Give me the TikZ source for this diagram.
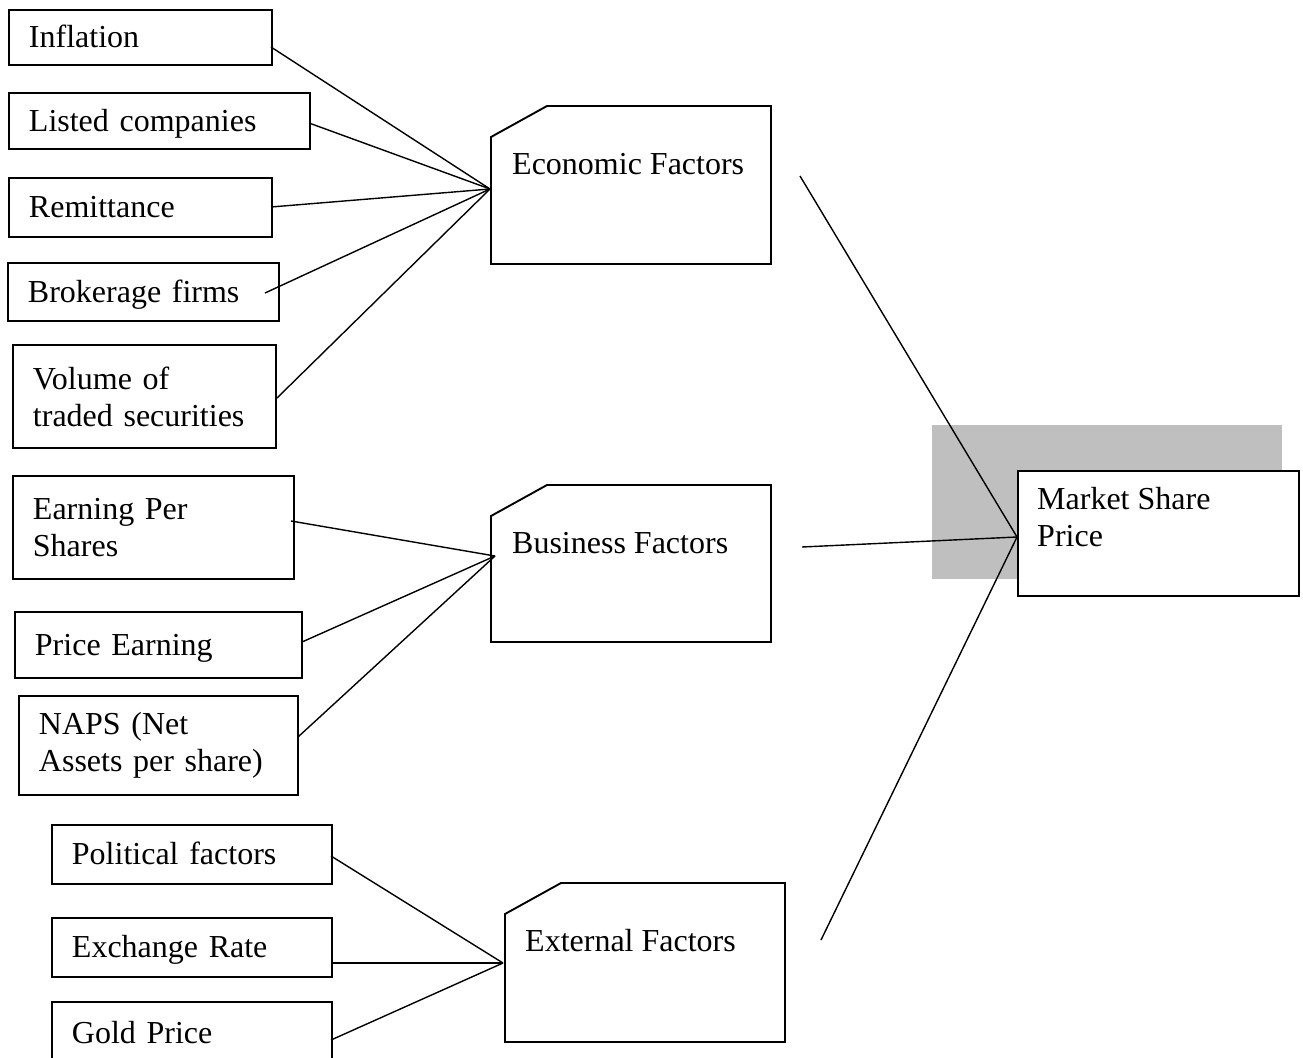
\documentclass[tikz,border=0pt]{standalone}
\usepackage{fontspec}
\setmainfont{Liberation Serif}
\begin{document}
\begin{tikzpicture}[x=1pt,y=-1pt,
  lbl/.style={font=\fontsize{32}{37}\selectfont},
  box/.style={draw, line width=1.9pt, anchor=north west, inner xsep=20pt, inner ysep=0pt, align=left, lbl},
  one/.style={text height=21pt, text depth=0pt},
  fshape/.style={draw, line width=1.9pt, line join=miter},
  conn/.style={line width=1.4pt},
  ftext/.style={anchor=base west, inner sep=0pt, lbl}
]
\useasboundingbox (0,0) rectangle (1303,1057);
\clip (0,0) rectangle (1303,1057);

% left boxes
\node[box, one, minimum width=263pt, minimum height=55pt, text width=223pt] (infl) at (8,9) {Inflation};
\node[box, one, minimum width=301pt, minimum height=56pt, text width=261pt] (listed) at (8,92) {Listed companies};
\node[box, one, minimum width=263pt, minimum height=59pt, text width=223pt] (remit) at (8,177) {Remittance};
\node[box, one, minimum width=271pt, minimum height=58pt, text width=231pt] (broker) at (7,262) {Brokerage firms};
\node[box, minimum width=263pt, minimum height=103pt, text width=223pt] (volume) at (12,344) {Volume of\\traded securities};
\node[box, minimum width=281pt, minimum height=103pt, text width=241pt] (eps) at (12,475) {Earning Per\\Shares};
\node[box, one, minimum width=287pt, minimum height=66pt, text width=247pt] (pe) at (14,611) {Price Earning};
\node[box, minimum width=279pt, minimum height=99pt, text width=239pt] (naps) at (18,695) {NAPS (Net\\Assets per share)};
\node[box, one, minimum width=280pt, minimum height=59pt, text width=240pt] (polit) at (51,824) {Political factors};
\node[box, one, minimum width=280pt, minimum height=59pt, text width=240pt] (exch) at (51,917) {Exchange Rate};
\node[box, one, minimum width=280pt, minimum height=62pt, text width=240pt] (gold) at (51,1001) {Gold Price};

% factor shapes
\draw[fshape] (491,137) -- (547,106) -- (771,106) -- (771,264) -- (491,264) -- cycle;
\node[ftext] (eco) at (512,174) {Economic Factors};
\draw[fshape] (491,516) -- (547,485) -- (771,485) -- (771,642) -- (491,642) -- cycle;
\node[ftext] (bus) at (512,553) {Business Factors};
\draw[fshape] (505,914) -- (561,883) -- (785,883) -- (785,1042) -- (505,1042) -- cycle;
\node[ftext] (ext) at (525,951) {External Factors};

% market share price
\fill[gray!50] (932,425) rectangle (1282,579);
\node[draw, line width=1.9pt, fill=white, anchor=north west, minimum width=281pt, minimum height=125pt] (msp) at (1017,470) {};
\node[anchor=north west, inner sep=0pt, align=left, lbl] (msptext) at (1037,487) {Market Share\\Price};

% connector points
\coordinate (inflOut) at (271,47);
\coordinate (listedOut) at (309,123);
\coordinate (remitOut) at (271,207);
\coordinate (brokerOut) at (265,293);
\coordinate (volumeOut) at (277,398);
\coordinate (epsOut) at (291,521);
\coordinate (peOut) at (302,642);
\coordinate (napsOut) at (298,737);
\coordinate (politOut) at (331,856);
\coordinate (exchOut) at (331,963);
\coordinate (goldOut) at (331,1040);
\coordinate (ecoIn) at (490,189);
\coordinate (busIn) at (495,556);
\coordinate (extIn) at (503,963);
\coordinate (ecoOut) at (800,176);
\coordinate (busOut) at (802,547);
\coordinate (extOut) at (821,940);
\coordinate (mspIn) at (1017,537);

\foreach \s in {inflOut,listedOut,remitOut,brokerOut,volumeOut}
  \draw[conn] (\s) -- (ecoIn);
\foreach \s in {epsOut,peOut,napsOut}
  \draw[conn] (\s) -- (busIn);
\foreach \s in {politOut,exchOut,goldOut}
  \draw[conn] (\s) -- (extIn);
\foreach \s in {ecoOut,busOut,extOut}
  \draw[conn] (\s) -- (mspIn);
\end{tikzpicture}
\end{document}
